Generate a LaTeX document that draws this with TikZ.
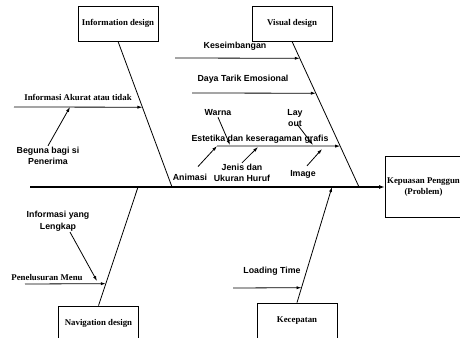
\documentclass[tikz,border=0pt]{standalone}
\usepackage{fontspec}
\setmainfont{Liberation Serif}
\setsansfont{Liberation Sans}
\usetikzlibrary{arrows.meta, positioning, calc}
\tikzset{
	effect/.style={rectangle, draw, line width=0.8pt, minimum width=80pt,
		minimum height=35pt, inner sep=0pt,
		font=\bfseries\fontsize{8.8}{11.5}\selectfont},
	cause/.style={align=center, inner sep=1pt,
		font=\sffamily\bfseries\fontsize{8.8}{11.5}\selectfont},
	causeserif/.style={align=center, inner sep=1pt,
		font=\bfseries\fontsize{8.8}{11.5}\selectfont},
	bone/.style={line width=0.8pt},
	spine/.style={line width=1.2pt, -{Latex[length=6pt,width=4pt]}},
	myarrow/.style={line width=0.8pt, -{Latex[length=5pt,width=3.2pt]}}
}
\begin{document}
\begin{tikzpicture}[x=1pt, y=-1pt]
	\useasboundingbox (0,0) rectangle (460,337);
	\clip (0,0) rectangle (460,337);
	
	%% ---- Category boxes ----
	\node[effect] (info)   at (118,23.5)  {Information design};
	\node[effect] (visual) at (292,23.5)  {Visual design};
	\node[effect] (nav)    at (98.5,323.5) {Navigation design};
	\node[effect] (speed)  at (297,320.5) {Kecepatan};
	
	%% ---- Problem (head) ----
	\node[effect, anchor=west, minimum width=90pt, minimum height=61pt]
	(problem) at (385,187) {};
	\node[causeserif, anchor=west] (problemtext) at (386,187)
	{Kepuasan Penggun\\(Problem)};
	
	%% ---- Spine and main bones ----
	\coordinate (tail) at (30,187);
	\coordinate (j1) at (172,187);
	\coordinate (j2) at (359,187);
	\coordinate (j3) at (138,187);
	\coordinate (j4) at (332,187);
	\draw[spine] (tail) -- (problem.west);
	\draw[bone] (info.south) -- (j1);
	\draw[bone] (visual.south) -- (j2);
	\draw[bone] (nav.north) -- (j3);
	\draw[myarrow] (speed.north) -- (j4);
	
	%% ---- Information design causes ----
	\node[causeserif] (akurat) at (78,97) {Informasi Akurat atau tidak};
	\coordinate (akurat-s) at (14,107);
	\coordinate (akurat-b) at ($(info.south)!0.452!(j1)$);
	\coordinate (akurat-m) at (70,107);
	\draw[myarrow] (akurat-s) -- (akurat-b);
	\node[cause] (beguna) at (48,156) {Beguna bagi si\\Penerima};
	\draw[myarrow] (beguna.north) -- (akurat-m);
	
	%% ---- Visual design causes ----
	\node[cause] (seimbang) at (235,46) {Keseimbangan};
	\coordinate (seimbang-s) at (175,58);
	\coordinate (seimbang-b) at ($(visual.south)!0.116!(j2)$);
	\draw[myarrow] (seimbang-s) -- (seimbang-b);
	
	\node[cause] (daya) at (243,79) {Daya Tarik Emosional};
	\coordinate (daya-s) at (192,93);
	\coordinate (daya-b) at ($(visual.south)!0.356!(j2)$);
	\draw[myarrow] (daya-s) -- (daya-b);
	
	\node[cause] (estetika) at (260,139) {Estetika dan keseragaman grafis};
	\coordinate (estetika-s) at (217,146);
	\coordinate (estetika-b) at ($(visual.south)!0.719!(j2)$);
	\draw[myarrow] (estetika-s) -- (estetika-b);
	
	\node[cause] (warna)   at (218,113) {Warna};
	\node[cause] (layout)  at (295,118) {Lay\\out};
	\node[cause] (animasi) at (190,177) {Animasi};
	\node[cause] (jenis)   at (242,173) {Jenis dan\\Ukuran Huruf};
	\node[cause] (image)   at (303,174) {Image};
	\coordinate (warna-b)  at (230,145);
	\coordinate (layout-b) at (313,145);
	\coordinate (jenis-b)  at (258,147);
	\coordinate (image-b)  at (322,149);
	\draw[myarrow] (warna.south) -- (warna-b);
	\draw[myarrow] ([shift={(2,-4)}]layout.south) -- (layout-b);
	\draw[myarrow] ([shift={(8,-6)}]animasi.north) -- (estetika-s);
	\draw[myarrow] (jenis.north) -- (jenis-b);
	\draw[myarrow] ([shift={(4,-3)}]image.north) -- (image-b);
	
	%% ---- Navigation design causes ----
	\node[causeserif] (telusur) at (47,277) {Penelusuran Menu};
	\coordinate (telusur-s) at (25,284);
	\coordinate (telusur-b) at ($(nav.north)!0.185!(j3)$);
	\draw[myarrow] (telusur-s) -- (telusur-b);
	\node[cause] (lengkap) at (58,221) {Informasi yang\\Lengkap};
	\coordinate (lengkap-b) at (97,281);
	\draw[myarrow] ([xshift=12pt]lengkap.south) -- (lengkap-b);
	
	%% ---- Kecepatan causes ----
	\node[cause] (loading) at (272,271) {Loading Time};
	\coordinate (loading-s) at (233,288);
	\coordinate (loading-b) at ($(speed.north)!0.129!(j4)$);
	\draw[myarrow] (loading-s) -- (loading-b);
	
\end{tikzpicture}
\end{document}
